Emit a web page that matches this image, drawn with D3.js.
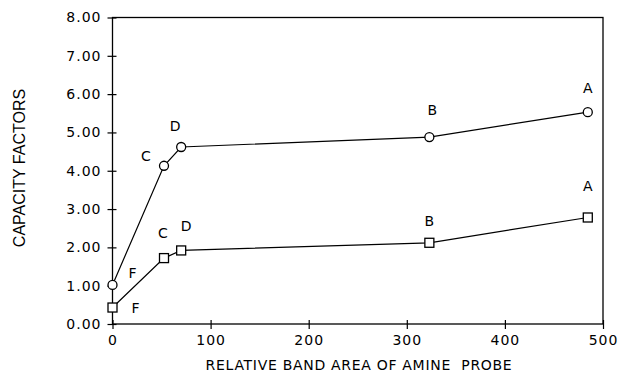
<!DOCTYPE html>
<html><head><meta charset="utf-8">
<script src="https://cdn.jsdelivr.net/npm/d3@7"></script>
<style>body{margin:0;background:#fff}svg{display:block}</style>
</head><body>
<script>
const pointLabels = ["F","C","D","B","A"];
const xValues = [0, 52.5, 70, 323, 484.5];
const circleSeries = [1.02, 4.13, 4.62, 4.88, 5.53];
const squareSeries = [0.43, 1.72, 1.92, 2.12, 2.78];
const xTicks = [0,100,200,300,400,500];
const yTicks = [0,1,2,3,4,5,6,7,8];
const xTitle = "RELATIVE BAND AREA OF AMINE\u00a0\u00a0PROBE";
const yTitle = "CAPACITY FACTORS";

// label offsets (layout)
const circleOff = [[20,-12],[-18,-10],[-6,-21],[3,-27],[0,-24]];
const squareOff = [[23,0],[-1,-25],[5,-24],[0,-22],[0,-32]];

const W=623,H=374;
const L=112.5,R=603,T=17.5,B=324;
const svg=d3.select("body").append("svg").attr("width",W).attr("height",H);
const x=d3.scaleLinear().domain([0,500]).range([L,R]);
const y=d3.scaleLinear().domain([0,8]).range([B,T]);
const font="DejaVu Sans, Verdana, sans-serif";
const font2="Liberation Sans, Arial, sans-serif";

// frame
svg.append("rect").attr("x",L).attr("y",T).attr("width",R-L).attr("height",B-T)
  .attr("fill","none").attr("stroke","#000").attr("stroke-width",1.3);

// y axis
const ya=svg.append("g").attr("transform",`translate(${L},0)`)
  .call(d3.axisLeft(y).tickValues(yTicks).tickFormat(d3.format(".2f")).tickSize(5).tickPadding(6));
ya.select(".domain").remove();
ya.selectAll(".tick line").attr("x2",-5).attr("x1",4).attr("stroke-width",1.2);
ya.selectAll("text").attr("font-family",font).attr("font-size",14).attr("letter-spacing","1px").attr("fill","#000");

// x axis
const xa=svg.append("g").attr("transform",`translate(0,${B})`)
  .call(d3.axisBottom(x).tickValues(xTicks).tickFormat(d3.format("d")).tickSize(5).tickPadding(6));
xa.select(".domain").remove();
xa.selectAll(".tick line").attr("y1",-4).attr("y2",5).attr("stroke-width",1.2);
xa.selectAll("text").attr("font-family",font).attr("font-size",14).attr("letter-spacing","1px").attr("fill","#000");

// titles
svg.append("text").attr("x",359).attr("y",370).attr("text-anchor","middle")
  .attr("font-family",font).attr("font-size",14).attr("letter-spacing","0.7px").text(xTitle);
svg.append("text").attr("transform",`translate(25,168) rotate(-90)`).attr("text-anchor","middle")
  .attr("font-family",font2).attr("font-size",16).text(yTitle);

const line=d3.line().x(d=>x(d[0])).y(d=>y(d[1]));
function series(vals,shape,offs){
  const pts=xValues.map((xv,i)=>[xv,vals[i]]);
  svg.append("path").datum(pts).attr("d",line).attr("fill","none").attr("stroke","#000").attr("stroke-width",1.2);
  const g=svg.append("g");
  pts.forEach((p,i)=>{
    const cx=x(p[0]),cy=y(p[1]);
    if(shape==="circle"){
      g.append("circle").attr("cx",cx).attr("cy",cy).attr("r",4.5).attr("fill","#fff").attr("stroke","#000").attr("stroke-width",1.3);
    } else {
      g.append("rect").attr("x",cx-4.5).attr("y",cy-4.5).attr("width",9).attr("height",9).attr("fill","#fff").attr("stroke","#000").attr("stroke-width",1.3);
    }
    g.append("text").attr("x",cx+offs[i][0]).attr("y",cy+offs[i][1]).attr("dy","0.36em")
      .attr("text-anchor","middle").attr("font-family",font).attr("font-size",14).text(pointLabels[i]);
  });
}
series(circleSeries,"circle",circleOff);
series(squareSeries,"square",squareOff);
</script>
</body></html>
